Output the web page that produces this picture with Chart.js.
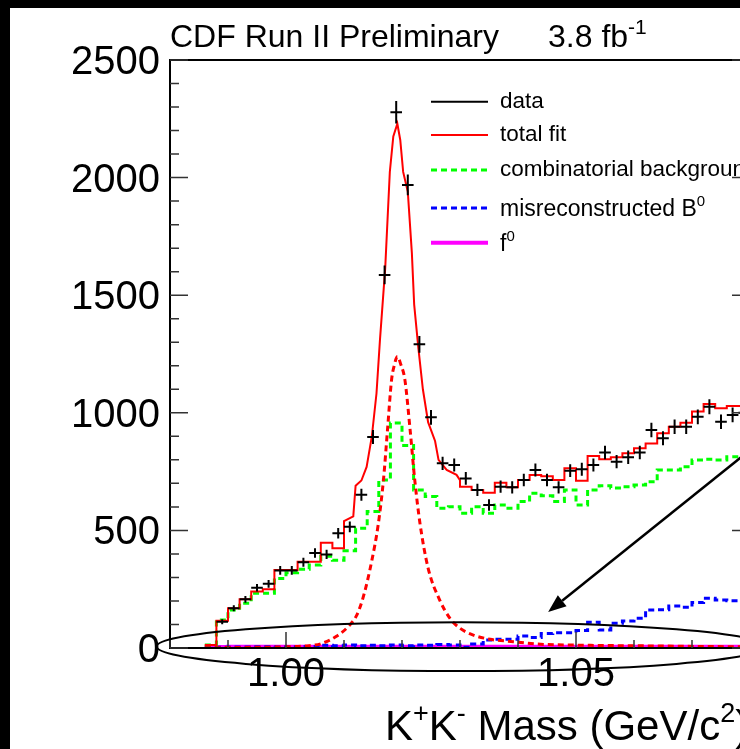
<!DOCTYPE html>
<html>
<head>
<meta charset="utf-8">
<script src="https://cdn.jsdelivr.net/npm/chart.js@4"></script>
<style>
html, body { margin: 0; padding: 0; background: #000; overflow: hidden; }
#wrap { position: relative; width: 740px; height: 749px; overflow: hidden; background: #000; }
#plot { position: absolute; left: 10px; top: 8px; background: #fff; }
</style>
</head>
<body>
<div id="wrap"><canvas id="plot" width="790" height="741"></canvas></div>
<script>
// axis ranges and tick labels
const xMin = 0.98, xMax = 1.08;
const yMin = 0, yMax = 2500;
const yTickValues = [0, 500, 1000, 1500, 2000, 2500];
const yTickLabels = ["0", "500", "1000", "1500", "2000", "2500"];
const xTickValues = [1.00, 1.05];
const xTickLabels = ["1.00", "1.05"];

// data points (bin centres start at 0.989, 2 MeV bins)
const dataStart = 0.989;
const binWidth = 0.002;
const dataCounts = [112, 169, 207, 256, 273, 330, 330, 365, 404, 398, 488, 515, 652, 897, 1586, 2278,
  1969, 1291, 981, 785, 778, 721, 672, 608, 686, 683, 714, 757, 714, 683, 754, 760, 778, 831, 792,
  811, 831, 927, 892, 941, 941, 983, 1026, 962, 991, 1000];

// template histograms, left bin edge starts at 0.986
const histStart = 0.986;
const combBkg = [13, 119, 162, 190, 233, 233, 296, 320, 335, 353, 390, 373, 413, 509, 580, 714, 957,
  861, 672, 644, 594, 601, 573, 601, 573, 608, 594, 623, 658, 647, 623, 672, 608, 672, 690, 680, 686,
  693, 707, 757, 757, 771, 799, 802, 799, 813, 815];
const misrecB0 = [3, 3, 4, 4, 5, 5, 4, 5, 6, 6, 12, 10, 13, 10, 12, 10, 13, 10, 13, 12, 15, 13, 3, 17,
  34, 37, 37, 51, 45, 62, 65, 65, 74, 109, 77, 105, 115, 126, 162, 163, 179, 173, 193, 211, 204, 201, 200];
const fZero = [4, 4, 5, 5, 5, 5, 5, 5, 5, 5, 5, 5, 5, 5, 5, 5, 5, 5, 5, 5, 5, 5, 5, 5, 5, 5, 5, 5, 5,
  5, 5, 5, 5, 5, 5, 5, 5, 5, 5, 5, 5, 5, 5, 5, 5, 5, 5];

// phi signal shape (red dashed)
const sigX = [0.986, 0.995, 1.000, 1.004, 1.006, 1.0087, 1.0110, 1.0122, 1.0133, 1.0148, 1.0159, 1.0168,
  1.0175, 1.0182, 1.0187, 1.0192, 1.0198, 1.0205, 1.0214, 1.0222, 1.0231, 1.0245, 1.0265, 1.0283,
  1.0300, 1.0323, 1.0352, 1.0392, 1.0432, 1.0507, 1.0622, 1.0737, 1.080];
const sigY = [1, 3, 5, 10, 18, 50, 98, 140, 215, 372, 525, 714, 927, 1140, 1205, 1239, 1205, 1140, 927,
  714, 530, 340, 204, 125, 84, 55, 37, 27, 17, 12, 9, 6, 5];

// total fit (red solid), traced as a polyline
const fitX = [0.986, 0.988, 0.988, 0.990, 0.990, 0.992, 0.992, 0.994, 0.994, 0.996, 0.996, 0.998, 0.998,
  1.002, 1.002, 1.006, 1.006, 1.008, 1.008, 1.010, 1.010, 1.0116, 1.0120, 1.0130, 1.0139, 1.0148,
  1.0156, 1.0162, 1.0171, 1.0179, 1.0185, 1.0192, 1.0197, 1.0202, 1.0210, 1.0217, 1.0221, 1.0228,
  1.0236, 1.0245, 1.0257, 1.0263, 1.0277, 1.0294, 1.0300, 1.0300, 1.032, 1.032, 1.034, 1.034, 1.036,
  1.036, 1.038, 1.038, 1.040, 1.040, 1.042, 1.042, 1.044, 1.044, 1.046, 1.046, 1.048, 1.048, 1.050,
  1.050, 1.052, 1.052, 1.054, 1.054, 1.056, 1.056, 1.058, 1.058, 1.060, 1.060, 1.062, 1.062, 1.064,
  1.064, 1.066, 1.066, 1.068, 1.068, 1.070, 1.070, 1.072, 1.072, 1.074, 1.074, 1.076, 1.076, 1.080];
const fitY = [13, 13, 116, 116, 169, 169, 207, 207, 240, 240, 250, 250, 332, 332, 367, 367, 448, 448,
  424, 424, 540, 560, 690, 712, 770, 900, 1082, 1310, 1613, 2024, 2175, 2229, 2160, 2024, 1940, 1680,
  1460, 1280, 1100, 960, 880, 800, 757, 736, 714, 686, 686, 672, 672, 660, 660, 703, 703, 683, 683,
  714, 714, 736, 736, 730, 730, 714, 714, 764, 764, 711, 711, 816, 816, 802, 802, 811, 811, 828, 828,
  849, 849, 870, 870, 913, 913, 941, 941, 958, 958, 1005, 1005, 1037, 1037, 1019, 1019, 1029, 1029];

const legendNames = ["data", "total fit", "combinatorial background", "misreconstructed B", "f"];

const FONT = '"Liberation Sans", Arial, Helvetica, sans-serif';
const font = px => px + "px " + FONT;

function histPoints(vals) {
  const pts = vals.map((v, i) => ({ x: histStart + i * binWidth, y: v }));
  pts.push({ x: histStart + vals.length * binWidth, y: vals[vals.length - 1] });
  return pts;
}

function richText(ctx, x, y, parts, size) {
  let cx = x;
  for (const [t, sup] of parts) {
    const s = sup ? Math.round(size * 0.65) : size;
    ctx.font = font(s);
    ctx.fillText(t, cx, sup ? y - size * 0.42 : y);
    cx += ctx.measureText(t).width;
  }
}

const rootStyle = {
  id: "rootStyle",
  afterDatasetsDraw(chart) {
    const ctx = chart.ctx;
    const xs = chart.scales.x, ys = chart.scales.y;
    const { left, right, top, bottom } = chart.chartArea;
    ctx.save();

    // data crosses: bin width horizontally, sqrt(N) vertically
    ctx.strokeStyle = "#000";
    ctx.lineWidth = 2;
    chart.data.datasets[0].data.forEach(p => {
      const e = Math.sqrt(p.y);
      const py = ys.getPixelForValue(p.y);
      const px = xs.getPixelForValue(p.x);
      ctx.beginPath();
      ctx.moveTo(xs.getPixelForValue(p.x - binWidth / 2), py);
      ctx.lineTo(xs.getPixelForValue(p.x + binWidth / 2), py);
      ctx.moveTo(px, ys.getPixelForValue(p.y - e));
      ctx.lineTo(px, ys.getPixelForValue(p.y + e));
      ctx.stroke();
    });

    // frame
    ctx.strokeStyle = "#000";
    ctx.lineWidth = 2;
    ctx.strokeRect(left, top, right - left, bottom - top);

    // ticks (inside)
    ctx.strokeStyle = "#333";
    ctx.lineWidth = 1.5;
    ctx.beginPath();
    for (let i = 0; i <= 25; i++) {
      const y = ys.getPixelForValue(i * 100);
      const len = i % 5 === 0 ? 18 : 9;
      ctx.moveTo(left, y); ctx.lineTo(left + len, y);
      ctx.moveTo(right, y); ctx.lineTo(right - len, y);
    }
    for (let i = 0; i <= 10; i++) {
      const x = xs.getPixelForValue(xMin + i * 0.01);
      const len = (i === 2 || i === 7) ? 16 : 8;
      ctx.moveTo(x, bottom); ctx.lineTo(x, bottom - len);
    }
    ctx.stroke();

    // tick labels
    ctx.fillStyle = "#000";
    ctx.font = font(40);
    ctx.textAlign = "right";
    ctx.textBaseline = "alphabetic";
    yTickValues.forEach((v, i) => {
      ctx.fillText(yTickLabels[i], left - 10, ys.getPixelForValue(v) + 14);
    });
    ctx.textAlign = "center";
    xTickValues.forEach((v, i) => {
      ctx.fillText(xTickLabels[i], xs.getPixelForValue(v), bottom + 38);
    });

    // titles
    ctx.textAlign = "left";
    ctx.font = font(32);
    ctx.fillText("CDF Run II Preliminary", left, 39);
    richText(ctx, 538, 39, [["3.8 fb", false], ["-1", true]], 32);
    richText(ctx, 375, 732, [["K", false], ["+", true], ["K", false], ["-", true],
      [" Mass (GeV/c", false], ["2", true], [")", false]], 42);

    // legend
    const rows = [93.7, 127, 162, 200, 234.7];
    const styles = [
      { c: "#000", w: 2, d: [] },
      { c: "#ff0000", w: 2, d: [] },
      { c: "#00ff00", w: 3, d: [6, 4] },
      { c: "#0000ff", w: 3, d: [6, 4] },
      { c: "#ff00ff", w: 4, d: [] }
    ];
    rows.forEach((y, i) => {
      ctx.strokeStyle = styles[i].c;
      ctx.lineWidth = styles[i].w;
      ctx.setLineDash(styles[i].d);
      ctx.beginPath(); ctx.moveTo(421, y); ctx.lineTo(478, y); ctx.stroke();
    });
    ctx.setLineDash([]);
    ctx.fillStyle = "#000";
    ctx.textBaseline = "middle";
    ctx.font = font(22.5);
    ctx.fillText(legendNames[0], 490, rows[0]);
    ctx.fillText(legendNames[1], 490, rows[1]);
    ctx.fillText(legendNames[2], 490, rows[2]);
    ctx.textBaseline = "alphabetic";
    richText(ctx, 490, rows[3] + 8, [[legendNames[3], false], ["0", true]], 23);
    richText(ctx, 490, rows[4] + 8, [[legendNames[4], false], ["0", true]], 23);

    // ellipse around the small components
    const ecx = xs.getPixelForValue(1.0302), ecy = ys.getPixelForValue(6);
    const erx = ecx - xs.getPixelForValue(0.9777);
    const ery = ecy - ys.getPixelForValue(110);
    ctx.strokeStyle = "#000";
    ctx.lineWidth = 2;
    ctx.beginPath();
    ctx.ellipse(ecx, ecy, erx, ery, 0, 0, Math.PI * 2);
    ctx.stroke();

    // arrow
    const tx = xs.getPixelForValue(1.0452), ty = ys.getPixelForValue(153);
    const sx = xs.getPixelForValue(1.0834), sy = ys.getPixelForValue(909);
    const ang = Math.atan2(ty - sy, tx - sx);
    const hl = 18, hw = 7;
    const bx = tx - hl * Math.cos(ang), by = ty - hl * Math.sin(ang);
    ctx.lineWidth = 2.5;
    ctx.beginPath(); ctx.moveTo(sx, sy); ctx.lineTo(bx, by); ctx.stroke();
    ctx.fillStyle = "#000";
    ctx.beginPath();
    ctx.moveTo(tx, ty);
    ctx.lineTo(bx + hw * Math.sin(ang), by - hw * Math.cos(ang));
    ctx.lineTo(bx - hw * Math.sin(ang), by + hw * Math.cos(ang));
    ctx.closePath();
    ctx.fill();

    ctx.restore();
  }
};

const ctx = document.getElementById("plot").getContext("2d");

new Chart(ctx, {
  type: "scatter",
  data: {
    datasets: [
      {
        label: "data",
        data: dataCounts.map((v, i) => ({ x: dataStart + i * binWidth, y: v })),
        pointRadius: 0,
        showLine: false
      },
      {
        label: "total fit",
        data: fitX.map((x, i) => ({ x: x, y: fitY[i] })),
        showLine: true,
        borderColor: "#ff0000",
        borderWidth: 2,
        pointRadius: 0
      },
      {
        label: "phi",
        data: sigX.map((x, i) => ({ x: x, y: sigY[i] })),
        showLine: true,
        borderColor: "#ff0000",
        borderWidth: 3,
        borderDash: [6, 4],
        cubicInterpolationMode: "monotone",
        pointRadius: 0
      },
      {
        label: "combinatorial background",
        data: histPoints(combBkg),
        showLine: true,
        stepped: "before",
        borderColor: "#00ff00",
        borderWidth: 3,
        borderDash: [6, 4],
        pointRadius: 0
      },
      {
        label: "misreconstructed B0",
        data: histPoints(misrecB0),
        showLine: true,
        stepped: "before",
        borderColor: "#0000ff",
        borderWidth: 3,
        borderDash: [6, 4],
        pointRadius: 0
      },
      {
        label: "f0",
        data: histPoints(fZero),
        showLine: true,
        stepped: "before",
        borderColor: "#ff00ff",
        borderWidth: 4,
        pointRadius: 0
      }
    ]
  },
  options: {
    responsive: false,
    animation: false,
    events: [],
    layout: {
      padding: { left: 160, top: 52, right: 50, bottom: 101 }
    },
    plugins: {
      legend: { display: false },
      tooltip: { enabled: false }
    },
    scales: {
      x: { type: "linear", min: xMin, max: xMax, display: false },
      y: { type: "linear", min: yMin, max: yMax, display: false }
    }
  },
  plugins: [rootStyle]
});
</script>
</body>
</html>
